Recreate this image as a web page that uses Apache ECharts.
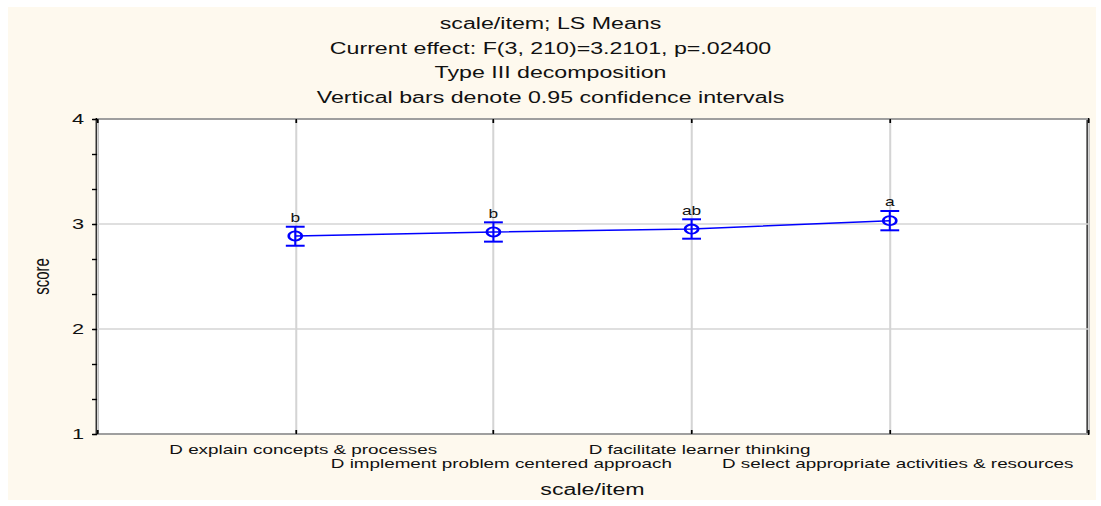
<!DOCTYPE html>
<html>
<head>
<meta charset="utf-8">
<script src="https://cdn.jsdelivr.net/npm/echarts@6/dist/echarts.min.js"></script>
<style>
  html, body { margin: 0; padding: 0; background: #ffffff; width: 1101px; height: 506px; overflow: hidden; }
  #frame { position: absolute; left: 8px; top: 7px; width: 1088px; height: 493px; background: #FEF9EE; }
  #chart { position: absolute; left: 0; top: 0; width: 760px; height: 506px; transform: scaleX(1.448684); transform-origin: 0 0; }
</style>
</head>
<body>
<div id="frame"></div>
<div id="chart"></div>
<script>
const titleLines = [
  'scale/item; LS Means',
  'Current effect: F(3, 210)=3.2101, p=.02400',
  'Type III decomposition',
  'Vertical bars denote 0.95 confidence intervals'
];
const categories = [
  'D explain concepts & processes',
  'D implement problem centered approach',
  'D facilitate learner thinking',
  'D select appropriate activities & resources'
];
const means = [2.886, 2.924, 2.952, 3.032];
const lower = [2.793, 2.832, 2.860, 2.940];
const upper = [2.974, 3.016, 3.045, 3.124];
const letters = ['b', 'b', 'ab', 'a'];
const yMin = 1, yMax = 4, yStep = 1;
const xAxisName = 'scale/item';
const yAxisName = 'score';

const FONT = "'Liberation Sans', Arial, sans-serif";
const BLUE = '#0000ff';
const GRID = '#d4d4d4';

const chart = echarts.init(document.getElementById('chart'), null, { renderer: 'svg' });

const meanData = means.map((m, i) => [i + 1, m]);
const ciData = means.map((m, i) => [i + 1, lower[i], upper[i]]);

chart.setOption({
  animation: false,
  backgroundColor: 'transparent',
  textStyle: { fontFamily: FONT },
  title: {
    text: titleLines.join('\n'),
    left: 'center',
    top: 6,
    textStyle: { fontSize: 16, lineHeight: 24.7, fontWeight: 'normal', color: '#111', fontFamily: FONT }
  },
  grid: {
    left: 67, right: 9, top: 119, bottom: 72,
    show: true, backgroundColor: '#ffffff', borderColor: '#000', borderWidth: 2,
    outerBoundsMode: 'none'
  },
  xAxis: [{
    type: 'value', min: 0, max: categories.length + 1, interval: 1,
    position: 'bottom',
    axisLine: { show: false },
    axisTick: { show: true, inside: true, length: 4, lineStyle: { color: '#000', width: 1.2 } },
    axisLabel: {
      fontSize: 13, lineHeight: 14, margin: 8, color: '#111', fontFamily: FONT,
      padding: [0, 0, 0, 11],
      formatter: function (v) {
        const i = Math.round(v) - 1;
        if (i < 0 || i >= categories.length) return '';
        return (i % 2 === 0) ? categories[i] : '\n' + categories[i];
      }
    },
    splitLine: { show: true, lineStyle: { color: GRID, width: 1.4 } },
    name: xAxisName, nameLocation: 'middle', nameGap: 47,
    nameTextStyle: { fontSize: 16, color: '#111', fontFamily: FONT }
  }, {
    type: 'value', min: 0, max: categories.length + 1, interval: 1,
    position: 'top',
    axisLine: { show: false },
    axisTick: { show: true, inside: true, length: 4, lineStyle: { color: '#000', width: 1.2 } },
    axisLabel: { show: false },
    splitLine: { show: false }
  }],
  yAxis: [{
    type: 'value', min: yMin, max: yMax, interval: yStep,
    position: 'left',
    axisLine: { show: false },
    axisTick: { show: true, length: 3, lineStyle: { color: '#000', width: 1.2 } },
    axisLabel: { fontSize: 15, color: '#111', margin: 9, fontFamily: FONT },
    splitLine: { show: true, lineStyle: { color: GRID, width: 1.5 } },
    name: yAxisName, nameLocation: 'middle', nameGap: 31,
    nameTextStyle: { fontSize: 15, color: '#111', fontFamily: FONT }
  }, {
    type: 'value', min: yMin, max: yMax, interval: yStep,
    position: 'right',
    axisLine: { show: false },
    axisTick: { show: true, inside: true, length: 3.5, lineStyle: { color: '#000', width: 1.4 } },
    minorTick: { show: true, splitNumber: 3, length: 3.5, lineStyle: { color: '#000', width: 1.4 } },
    axisLabel: { show: false },
    splitLine: { show: false }
  }],
  series: [{
    type: 'line',
    xAxisIndex: 0, yAxisIndex: 0,
    data: meanData,
    symbol: 'circle',
    symbolSize: 9,
    itemStyle: { color: 'rgba(0,0,0,0)', borderColor: BLUE, borderWidth: 1.8 },
    lineStyle: { color: BLUE, width: 1.5 },
    z: 3
  }, {
    type: 'custom',
    xAxisIndex: 0, yAxisIndex: 0,
    data: ciData,
    z: 4,
    renderItem: function (params, api) {
      const x = api.value(0);
      const pLo = api.coord([x, api.value(1)]);
      const pHi = api.coord([x, api.value(2)]);
      const hw = 6.5;
      return {
        type: 'group',
        children: [
          { type: 'line', shape: { x1: pLo[0], y1: pLo[1], x2: pHi[0], y2: pHi[1] }, style: { stroke: BLUE, lineWidth: 1.4 } },
          { type: 'line', shape: { x1: pLo[0] - hw, y1: pLo[1], x2: pLo[0] + hw, y2: pLo[1] }, style: { stroke: BLUE, lineWidth: 2 } },
          { type: 'line', shape: { x1: pHi[0] - hw, y1: pHi[1], x2: pHi[0] + hw, y2: pHi[1] }, style: { stroke: BLUE, lineWidth: 2 } },
          { type: 'text', x: pHi[0], y: pHi[1] - 3, style: { text: letters[params.dataIndex], fill: '#111', fontSize: 12, fontFamily: FONT, align: 'center', verticalAlign: 'bottom' } }
        ]
      };
    }
  }]
});
</script>
</body>
</html>
